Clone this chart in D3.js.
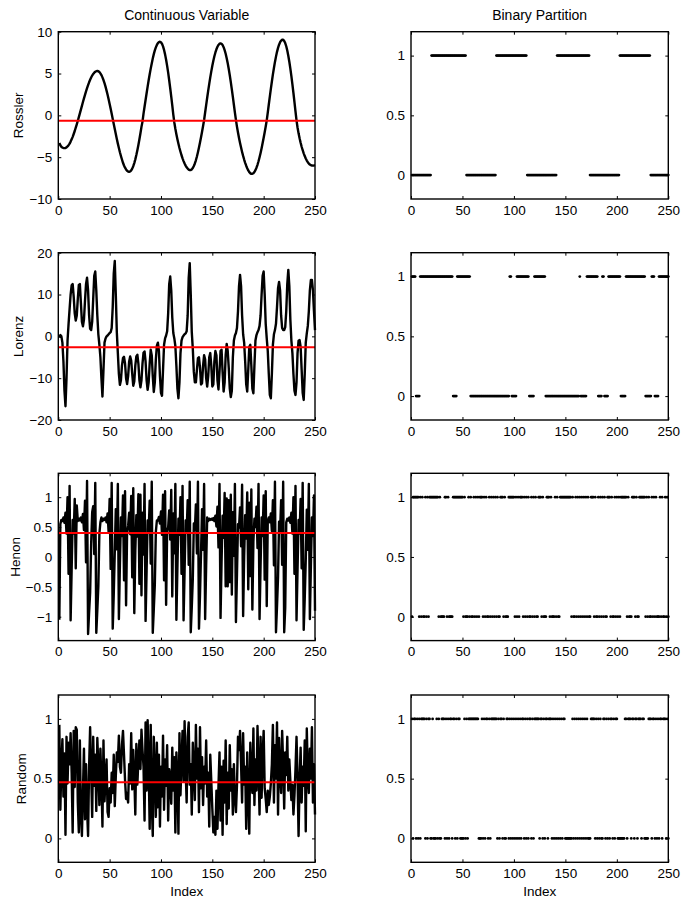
<!DOCTYPE html>
<html>
<head>
<meta charset="utf-8">
<script src="https://cdn.jsdelivr.net/npm/d3@7"></script>
<style>
body { margin: 0; background: #fff; }
text { font-family: "Liberation Sans", Arial, Helvetica, sans-serif; fill: #000; }
</style>
</head>
<body>
<svg id="chart" width="685" height="902"></svg>
<script>
// ---------------- DATA ----------------
const seriesNames = ["Rossler", "Lorenz", "Henon", "Random"];
const columnTitles = ["Continuous Variable", "Binary Partition"];
const xLabel = "Index";
const xTickValues = [0, 50, 100, 150, 200, 250];
const yDomains = [[-10, 10], [-20, 20], [-1.4, 1.4], [-0.2, 1.2]];
const yTickValues = [[-10, -5, 0, 5, 10], [-20, -10, 0, 10, 20], [-1, -0.5, 0, 0.5, 1], [0, 0.5, 1]];
const binaryDomain = [-0.2, 1.2];
const binaryTickValues = [0, 0.5, 1];
const thresholds = [-0.65, -2.6, 0.4, 0.47];

const rossler = [
-3.30,-3.58,-3.76,-3.86,-3.90,-3.92,-3.90,-3.83,-3.72,-3.57,
-3.38,-3.14,-2.87,-2.57,-2.23,-1.87,-1.48,-1.07,-0.65,-0.21,
0.24,0.69,1.14,1.59,2.03,2.45,2.86,3.25,3.61,3.95,
4.25,4.52,4.76,4.95,5.10,5.21,5.28,5.30,5.27,5.18,
5.02,4.81,4.54,4.22,3.85,3.43,2.96,2.46,1.93,1.37,
0.79,0.19,-0.42,-1.03,-1.64,-2.24,-2.82,-3.38,-3.91,-4.41,
-4.86,-5.28,-5.67,-5.99,-6.26,-6.47,-6.63,-6.72,-6.75,-6.71,
-6.58,-6.37,-6.08,-5.71,-5.26,-4.75,-4.18,-3.55,-2.86,-2.14,
-1.38,-0.75,0.21,1.03,1.84,2.64,3.43,4.19,4.91,5.59,
6.21,6.80,7.32,7.76,8.13,8.42,8.64,8.76,8.80,8.74,
8.55,8.25,7.82,7.29,6.65,5.92,5.10,4.20,3.24,2.23,
1.18,0.10,-0.85,-1.60,-2.25,-2.85,-3.40,-3.90,-4.35,-4.77,
-5.14,-5.47,-5.76,-6.01,-6.21,-6.37,-6.48,-6.54,-6.54,-6.46,
-6.30,-6.06,-5.75,-5.37,-4.92,-4.41,-3.85,-3.25,-2.62,-1.96,
-1.27,-0.56,0.34,1.23,2.10,2.95,3.76,4.54,5.26,5.93,
6.53,7.06,7.52,7.90,8.20,8.42,8.56,8.60,8.55,8.40,
8.15,7.80,7.36,6.83,6.22,5.54,4.79,3.98,3.11,2.21,
1.27,0.32,-0.55,-1.35,-2.05,-2.70,-3.30,-3.85,-4.37,-4.85,
-5.28,-5.67,-6.02,-6.33,-6.59,-6.79,-6.93,-6.99,-6.99,-6.92,
-6.77,-6.55,-6.26,-5.91,-5.49,-5.01,-4.49,-3.92,-3.31,-2.68,
-2.01,-1.34,-0.60,0.33,1.30,2.25,3.17,4.05,4.89,5.66,
6.39,7.02,7.59,8.06,8.45,8.74,8.94,9.04,9.03,8.90,
8.64,8.26,7.75,7.13,6.41,5.59,4.68,3.71,2.67,1.58,
0.48,-0.60,-1.45,-2.15,-2.75,-3.28,-3.75,-4.17,-4.54,-4.87,
-5.16,-5.40,-5.60,-5.76,-5.88,-5.96,-6.00,-6.01,-5.99,-5.95
];

const lorenz = [
-0.3,0.3,0.0,-1.5,-6,-13,-16.7,-10,-1,3,
6.5,10,12.2,12.5,9.5,5.5,3.8,5,9,12.3,
12.5,8,3.5,2.4,4,8.5,12.5,14,11,5,
1.8,1.5,3.5,9,14.5,15.5,11,5,0.5,-2,
-5,-10,-14.4,-8,-1.5,-0.5,0,0.2,0.5,0.8,
1,2,7,15,18,10,1,-4,-9,-11.6,
-10.5,-7,-5.2,-4.9,-6.5,-10,-11.4,-9.5,-6,-4.8,
-5.8,-9,-11.8,-10.8,-7,-4.8,-4.4,-6.5,-10.5,-12.2,
-10.5,-6.5,-3.9,-3.6,-6,-10.5,-12.8,-11,-6.5,-3.2,
-4.5,-9.5,-13.3,-11,-5.5,-2.2,-1.5,-3.5,-9.5,-13.5,
-14.2,-8,-2,-0.5,0.2,1.2,5.5,12.5,14.3,11,
4.5,0.8,-0.5,-2.3,-7,-12.5,-14.8,-11,-4,-1,
-0.2,0.2,0.5,0.7,1.2,5,14,17.5,10,1,
-3,-8.5,-11,-11,-8,-5.2,-5.0,-7.5,-11.5,-11.2,
-7,-4.5,-5.5,-10,-12,-9.5,-5,-4.0,-7,-12,
-11.5,-6,-3.5,-4.5,-10.5,-12.7,-8.5,-3.5,-3.2,-8.5,
-13.2,-11,-4.5,-1.8,-3.5,-7.5,-12.5,-14.5,-13,-5,
-1,0.2,0.8,2,6,12,14.7,12,5,0.5,
-1.5,-6,-11.5,-13.2,-8,-2.5,-2.0,-7,-12.5,-13.6,
-7,-1,0.3,1,1.5,2.5,5,10,14.5,15.5,
10,3,-0.5,-3.5,-9,-14,-14.8,-9,-2,0.5,
1.5,3,7,11.5,13,11,5,2,1.5,1.5,
2.2,6,12.5,15.9,12,4,-1,-4,-9,-13,
-14,-11,-4,-1,-0.9,-2.5,-8,-13.5,-15.2,-9,
-1.5,0.7,2.5,6,11,13.5,13.5,11,6,1.5
];

const henon = [
-1.05,0.55,0.62,0.60,0.66,0.57,0.74,0.39,1.00,-0.28,
1.19,-1.06,-0.21,0.62,0.39,0.97,-0.19,0.86,0.60,0.64,
0.61,0.66,0.58,0.72,0.45,0.94,-0.09,1.27,-1.29,-0.93,
-0.60,0.22,0.75,0.85,0.05,1.24,-1.27,-0.89,-0.49,0.39,
0.58,0.66,0.60,0.64,0.62,0.66,0.58,0.73,0.42,0.97,
-0.20,1.24,-1.20,-0.63,0.08,0.80,0.13,1.22,-1.04,-0.14,
0.66,0.35,1.03,-0.39,1.10,-0.81,0.41,0.52,0.74,0.38,
1.02,-0.34,1.15,-0.94,0.10,0.70,0.34,1.05,-0.45,1.04,
-0.64,0.74,0.04,1.22,-1.07,-0.23,0.61,0.42,0.94,-0.11,
1.26,-1.27,-0.88,-0.47,0.42,0.61,0.61,0.67,0.56,0.76,
0.37,1.04,-0.39,1.10,-0.80,0.43,0.50,0.78,0.29,1.12,
-0.66,0.73,0.06,1.22,-1.05,-0.18,0.64,0.37,1.00,-0.28,
1.19,-1.06,-0.23,0.61,0.41,0.95,-0.13,1.26,-1.26,-0.84,
-0.37,0.56,0.45,0.88,0.06,1.26,-1.20,-0.64,0.07,0.80,
0.12,1.22,-1.04,-0.15,0.66,0.60,0.64,0.62,0.64,0.62,
0.65,0.60,0.69,0.51,0.84,0.16,1.22,-1.02,-0.09,0.69,
0.32,1.07,-0.49,0.98,-0.49,0.95,-0.42,1.04,-0.63,0.75,
0.02,1.22,-1.09,-0.30,0.55,0.49,0.83,0.18,1.21,-0.99,
0.00,0.70,0.31,1.08,-0.54,0.91,-0.32,1.13,-0.88,0.26,
0.64,0.50,0.84,0.15,1.22,-1.04,-0.14,0.66,0.35,1.03,
-0.38,1.10,-0.82,0.60,0.66,0.58,0.73,0.43,0.95,-0.14,
1.26,-1.26,-0.83,-0.34,0.59,0.41,0.95,-0.13,1.26,-1.26,
-0.85,0.58,0.64,0.61,0.66,0.57,0.74,0.39,1.00,-0.28,
1.19,-1.06,-0.21,0.62,0.39,0.97,-0.19,1.24,-1.22,-0.70,
-0.05,0.79,0.12,1.22,-1.04,-0.15,0.66,0.35,1.03,-0.90
];

const random = [
0.95,0.24,0.62,0.83,0.35,0.71,0.03,0.85,0.46,0.80,
0.62,0.88,0.55,0.05,0.90,0.43,0.93,0.91,0.30,0.05,
0.82,0.20,0.02,0.40,0.75,0.16,0.62,0.25,0.02,0.60,
0.93,0.55,0.18,0.85,0.44,0.70,0.23,0.84,0.60,0.28,
0.75,0.48,0.10,0.82,0.31,0.50,0.66,0.22,0.18,0.42,
0.30,0.55,0.38,0.70,0.27,0.52,0.72,0.64,0.86,0.60,
0.55,0.78,0.90,0.70,0.49,0.33,0.38,0.30,0.62,0.46,
0.88,0.41,0.74,0.52,0.20,0.79,0.45,0.66,0.82,0.58,
0.91,0.74,0.60,0.15,0.97,0.40,0.99,0.62,0.08,0.95,
0.30,0.02,0.85,0.55,0.18,0.80,0.26,0.70,0.10,0.60,
0.35,0.86,0.24,0.66,0.44,0.78,0.15,0.58,0.50,0.29,
0.76,0.40,0.68,0.05,0.72,0.52,0.04,0.88,0.36,0.65,
0.90,0.48,0.98,0.58,0.30,0.85,0.97,0.45,0.62,0.20,
0.80,0.57,0.32,0.95,0.50,0.75,0.22,0.93,0.42,0.68,
0.28,0.60,0.46,0.82,0.35,0.55,0.10,0.70,0.48,0.25,
0.05,0.18,0.03,0.40,0.08,0.44,0.72,0.15,0.60,0.03,
0.65,0.30,0.82,0.12,0.55,0.25,0.78,0.40,0.58,0.20,
0.62,0.35,0.22,0.44,0.85,0.74,0.90,0.62,0.30,0.88,
0.45,0.60,0.08,0.72,0.35,0.04,0.80,0.52,0.38,0.92,
0.28,0.66,0.40,0.94,0.58,0.20,0.85,0.34,0.70,0.90,
0.42,0.33,0.22,0.40,0.28,0.35,0.46,0.62,0.95,0.30,
0.78,0.50,0.97,0.20,0.84,0.55,0.38,0.90,0.62,0.25,
0.72,0.53,0.85,0.40,0.66,0.48,0.32,0.45,0.20,0.36,
0.58,0.85,0.52,0.02,0.48,0.76,0.30,0.60,0.44,0.82,
0.06,0.92,0.55,0.38,0.75,0.50,0.93,0.30,0.62,0.20
];

const allSeries = [rossler, lorenz, henon, random];

// ---------------- LAYOUT ----------------
const svg = d3.select("#chart");
svg.append("rect").attr("width", 685).attr("height", 902).attr("fill", "#fff");

const colX = [[58.3, 315], [411, 668.3]];
const rowTop = [31.7, 252.7, 473.3, 695];
const panelH = 167.3;
const ylabelX = [22.7, 22.7, 19.5, 26];
const tickLen = 3;
const fmt = d => (d < 0 ? "\u2212" : "") + Math.abs(d);

function drawFrame(g, x, y, yTicks) {
  const [xa, xb] = x.range();
  const [yb, ya] = y.range();
  g.append("g").attr("transform", `translate(0,${yb})`)
    .call(d3.axisBottom(x).tickValues(xTickValues).tickSize(-tickLen).tickPadding(6).tickFormat(fmt))
    .call(s => s.select(".domain").remove());
  g.append("g").attr("transform", `translate(0,${ya})`)
    .call(d3.axisTop(x).tickValues(xTickValues).tickSize(-tickLen).tickFormat(""))
    .call(s => s.select(".domain").remove());
  g.append("g").attr("transform", `translate(${xa},0)`)
    .call(d3.axisLeft(y).tickValues(yTicks).tickSize(-tickLen).tickPadding(6).tickFormat(fmt))
    .call(s => s.select(".domain").remove());
  g.append("g").attr("transform", `translate(${xb},0)`)
    .call(d3.axisRight(y).tickValues(yTicks).tickSize(-tickLen).tickFormat(""))
    .call(s => s.select(".domain").remove());
  g.selectAll(".tick line").attr("stroke", "#000").attr("stroke-width", 1);
  g.selectAll(".tick text").attr("font-size", 13.5).attr("fill", "#000")
    .attr("font-family", "'Liberation Sans', Arial, Helvetica, sans-serif");
  g.append("rect").attr("x", xa).attr("y", ya).attr("width", xb - xa).attr("height", yb - ya)
    .attr("fill", "none").attr("stroke", "#000").attr("stroke-width", 1.4);
}

seriesNames.forEach((name, r) => {
  const values = allSeries[r];
  const th = thresholds[r];
  const top = rowTop[r], bottom = top + panelH;

  // Continuous panel
  const x = d3.scaleLinear().domain([0, 250]).range(colX[0]);
  const y = d3.scaleLinear().domain(yDomains[r]).range([bottom, top]);
  const g = svg.append("g");
  g.append("path").datum(values)
    .attr("d", d3.line().x((d, i) => x(i + 1)).y(d => y(d)))
    .attr("fill", "none").attr("stroke", "#000").attr("stroke-width", 2.4)
    .attr("stroke-linejoin", "round");
  g.append("line").attr("x1", x(0)).attr("x2", x(250)).attr("y1", y(th)).attr("y2", y(th))
    .attr("stroke", "#ff0000").attr("stroke-width", 2);
  drawFrame(g, x, y, yTickValues[r]);
  g.append("text").attr("transform", `translate(${ylabelX[r]},${(top + bottom) / 2}) rotate(-90)`)
    .attr("text-anchor", "middle").attr("font-size", 13.5).text(name);

  // Binary panel
  const xb = d3.scaleLinear().domain([0, 250]).range(colX[1]);
  const yb = d3.scaleLinear().domain(binaryDomain).range([bottom, top]);
  const gb = svg.append("g");
  gb.selectAll("circle").data(values.map(v => (v > th ? 1 : 0))).join("circle")
    .attr("cx", (d, i) => xb(i + 1)).attr("cy", d => yb(d)).attr("r", 1.4).attr("fill", "#000");
  drawFrame(gb, xb, yb, binaryTickValues);

  if (r === seriesNames.length - 1) {
    [x, xb].forEach(sc => {
      const [a, b] = sc.range();
      svg.append("text").attr("x", (a + b) / 2).attr("y", 896).attr("text-anchor", "middle")
        .attr("font-size", 13.5).text(xLabel);
    });
  }
});

columnTitles.forEach((t, c) => {
  svg.append("text").attr("x", (colX[c][0] + colX[c][1]) / 2).attr("y", 20)
    .attr("text-anchor", "middle").attr("font-size", 14).text(t);
});
</script>
</body>
</html>
